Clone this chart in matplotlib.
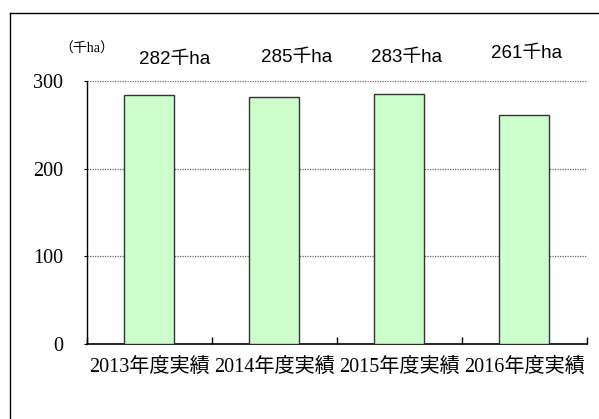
import matplotlib
matplotlib.use("Agg")
import matplotlib.pyplot as plt
from matplotlib.lines import Line2D

categories = ["2013年度実績", "2014年度実績", "2015年度実績", "2016年度実績"]
values = [284, 282, 285, 261]
label_texts = ["282千ha", "285千ha", "283千ha", "261千ha"]
yticks = [0, 100, 200, 300]
unit_label = "（千ha）"

serif = ["Liberation Serif", "Noto Sans CJK JP"]
sans = ["Liberation Sans", "Noto Sans CJK JP"]

fig = plt.figure(figsize=(5.99, 4.19), dpi=100)
ax = fig.add_axes([0.1447, 0.179, 0.8353, 0.6277])

x = list(range(len(categories)))
ax.bar(x, values, width=0.4, color="#CCFFCC", edgecolor="#333333", linewidth=1.0, zorder=3)

ax.set_xlim(-0.5, 3.5)
ax.set_ylim(0, 300)
ax.set_yticks(yticks)
ax.set_yticklabels([str(v) for v in yticks], family=serif, fontsize=14.5)
ax.set_xticks(x)
ax.set_xticklabels(categories, family=serif, fontsize=14.5)
ax.tick_params(axis="x", length=0, pad=10)
ax.tick_params(axis="y", length=2, pad=15, direction="out")
# category boundary ticks pointing up
ax.set_xticks([-0.5, 0.5, 1.5, 2.5, 3.5], minor=True)
ax.tick_params(axis="x", which="minor", length=5, direction="in", width=1)

for s in ["top", "right"]:
    ax.spines[s].set_visible(False)
ax.spines["left"].set_linewidth(1.0)
ax.spines["bottom"].set_linewidth(1.2)

ax.yaxis.grid(True, linestyle=(0, (1, 1)), color="#666666", linewidth=0.9, zorder=0)
ax.set_axisbelow(True)

# value labels (text boxes above bars)
offsets = [0.2, 0.18, 0.06, 0.02]
ypos = [324, 327, 327, 331]
for i, t in enumerate(label_texts):
    ax.text(x[i] + offsets[i], ypos[i], t, ha="center", va="center",
            family=sans, fontsize=13.5, clip_on=False)

fig.text(87 / 599, 1 - 49 / 419, unit_label, ha="center", va="center",
         family=serif, fontsize=10)

# outer frame (top and left edges visible)
fig.add_artist(Line2D([10 / 599, 1.0], [1 - 13 / 419, 1 - 13 / 419],
                      transform=fig.transFigure, color="black", linewidth=1.0))
fig.add_artist(Line2D([10 / 599, 10 / 599], [0, 1 - 13 / 419],
                      transform=fig.transFigure, color="black", linewidth=1.0))

fig.savefig("out.png", dpi=100)
